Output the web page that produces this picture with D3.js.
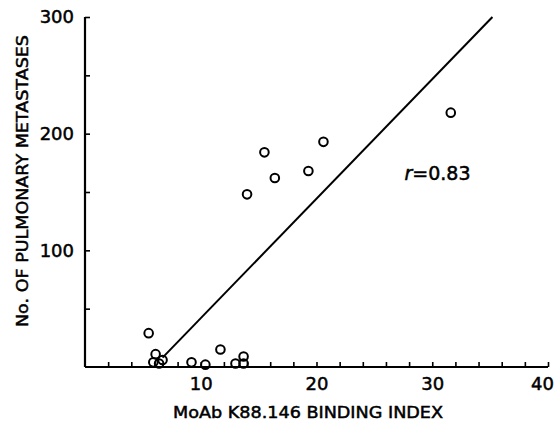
<!DOCTYPE html>
<html>
<head>
<meta charset="utf-8">
<script src="https://cdn.jsdelivr.net/npm/d3@7"></script>
<style>
  html, body { margin: 0; padding: 0; background: #fff; }
  svg { display: block; }
  text { font-family: "DejaVu Sans", "Liberation Sans", Arial, sans-serif; fill: #000; stroke: #000; stroke-width: 0.5px; }
</style>
</head>
<body>
<svg id="chart" width="556" height="424"></svg>
<script>
// Data
const bindingIndex = [31.6, 20.6, 15.5, 16.4, 19.3, 14.0, 5.5, 6.1, 5.9, 6.7, 6.4, 9.2, 10.4, 11.7, 13.0, 13.7, 13.7];
const metastases   = [218, 193, 184, 162, 168, 148, 29, 11, 4, 6, 3, 4, 2, 15, 3, 9, 3];
const fitX = [6.7, 35.2];
const fitY = [8, 300];
const xTicks = [2,4,6,8,10,12,14,16,18,20,22,24,26,28,30,32,34,36,38,40];
const xLabels = [10, 20, 30, 40];
const yTicks = [50, 100, 150, 200, 250, 300];
const yLabels = [100, 200, 300];
const xTitle = "MoAb K88.146 BINDING INDEX";
const yTitle = "No. OF PULMONARY METASTASES";
const rLabel = "0.83";

const FONT = "DejaVu Sans, Liberation Sans, Arial, sans-serif";
const svg = d3.select("#chart");
const x = d3.scaleLinear().domain([0, 40]).range([85, 548]);
const y = d3.scaleLinear().domain([0, 300]).range([367, 17]);

// X axis
const xAxis = d3.axisBottom(x)
  .tickValues(xTicks)
  .tickSizeInner(-5)
  .tickSizeOuter(0)
  .tickPadding(10)
  .tickFormat(d => xLabels.includes(d) ? d : "");
const gx = svg.append("g").attr("transform", `translate(0,${y(0)})`).call(xAxis);
gx.select(".domain").attr("d", `M${x(0)},0H${x(40)}`).attr("stroke-width", 2.2);
gx.selectAll(".tick line").attr("stroke-width", 1.6);
gx.selectAll(".tick text").attr("font-size", 18).attr("font-family", FONT)
  .attr("dx", d => d === 40 ? -6 : 0);

// Y axis
const yAxis = d3.axisLeft(y)
  .tickValues(yTicks)
  .tickSizeInner(-5)
  .tickSizeOuter(0)
  .tickPadding(11)
  .tickFormat(d => yLabels.includes(d) ? d : "");
const gy = svg.append("g").attr("transform", `translate(${x(0)},0)`).call(yAxis);
gy.select(".domain").attr("d", `M0,${y(0)}V${y(300)}`).attr("stroke-width", 2.2);
gy.selectAll(".tick line").attr("stroke-width", 1.6);
gy.selectAll(".tick text").attr("font-size", 18).attr("font-family", FONT);

// Regression line
svg.append("line")
  .attr("x1", x(fitX[0])).attr("y1", y(fitY[0]))
  .attr("x2", x(fitX[1])).attr("y2", y(fitY[1]))
  .attr("stroke", "#000").attr("stroke-width", 2);

// Points
svg.append("g").selectAll("circle")
  .data(bindingIndex.map((v, i) => [v, metastases[i]]))
  .join("circle")
  .attr("cx", d => x(d[0]))
  .attr("cy", d => y(d[1]))
  .attr("r", 4.3)
  .attr("fill", "none")
  .attr("stroke", "#000")
  .attr("stroke-width", 2);

// r label
const rt = svg.append("text").attr("x", x(27.6)).attr("y", y(160)).attr("font-size", 19);
rt.append("tspan").attr("font-style", "italic").text("r");
rt.append("tspan").text("=" + rLabel);

// Axis titles
svg.append("text")
  .attr("x", 308).attr("y", 418)
  .attr("text-anchor", "middle")
  .attr("font-size", 16)
  .attr("textLength", 270)
  .attr("lengthAdjust", "spacingAndGlyphs")
  .text(xTitle);

svg.append("text")
  .attr("transform", `translate(28,181) rotate(-90)`)
  .attr("text-anchor", "middle")
  .attr("font-size", 16)
  .attr("textLength", 292)
  .attr("lengthAdjust", "spacingAndGlyphs")
  .text(yTitle);
</script>
</body>
</html>
